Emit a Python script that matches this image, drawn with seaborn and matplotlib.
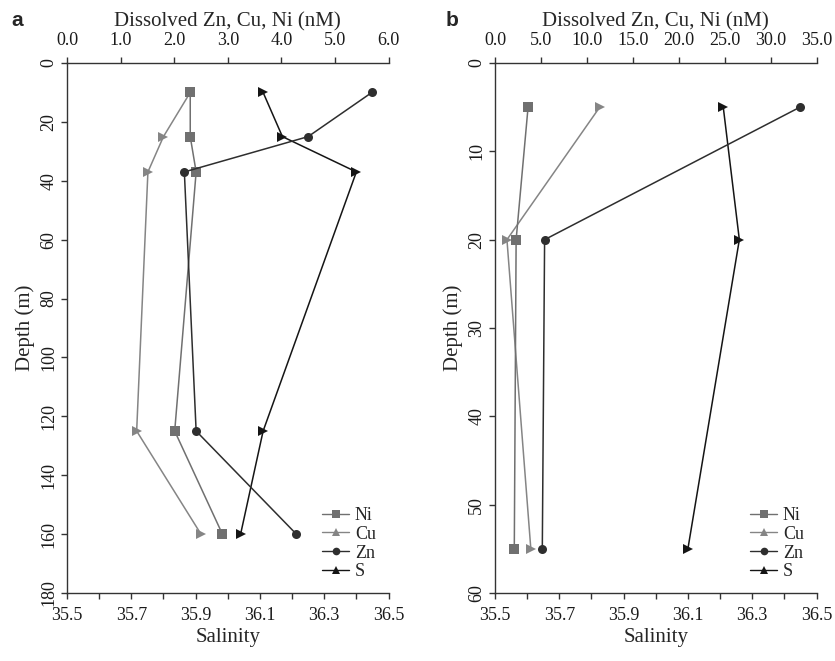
import matplotlib
matplotlib.use("Agg")
import matplotlib.pyplot as plt
from matplotlib.lines import Line2D
import numpy as np
import pandas as pd
import seaborn as sns

# Station a: depth profiles (m), dissolved metals (nM) and salinity
depth_a = [10, 25, 37, 125, 160]
ni_a = [2.30, 2.30, 2.41, 2.01, 2.90]
cu_a = [2.30, 1.80, 1.51, 1.30, 2.50]
zn_a = [5.69, 4.50, 2.19, 2.41, 4.28]
sal_a = [36.11, 36.17, 36.40, 36.11, 36.04]

# Station b
depth_b = [5, 20, 55]
ni_b = [3.6, 2.3, 2.1]
cu_b = [11.4, 1.3, 3.9]
zn_b = [33.2, 5.4, 5.15]
sal_b = [36.21, 36.26, 36.10]

metal_ticks_a = [0, 1, 2, 3, 4, 5, 6]
metal_ticks_b = [0, 5, 10, 15, 20, 25, 30, 35]
depth_ticks_a = list(range(0, 181, 20))
depth_ticks_b = list(range(0, 61, 10))
sal_ticks = [35.5, 35.6, 35.7, 35.8, 35.9, 36.0, 36.1, 36.2, 36.3, 36.4, 36.5]

sns.set_theme(style="ticks")
plt.rcParams["font.family"] = ["Liberation Serif", "DejaVu Serif"]
plt.rcParams["axes.linewidth"] = 1.0

C_NI = "#707070"
C_CU = "#858585"
C_ZN = "#2e2e2e"
C_S = "#151515"
SPINE = "#333333"
FS_TICK = 13
FS_LAB = 15

fig = plt.figure(figsize=(8.35, 6.61), dpi=100)
W, H = 835, 661


def panel(left_px, depth, ni, cu, zn, sal, xmax, mticks, dmax, dticks, letter, letter_x):
    ax = fig.add_axes([left_px / W, 1 - 593 / H, 321.5 / W, 530 / H])
    top = ax.twiny()

    prof = pd.DataFrame({"depth": depth, "Ni": ni, "Cu": cu, "Zn": zn, "S": sal})

    common = dict(sort=False, estimator=None, orient="y", legend=False,
                  linewidth=1.1, markersize=6.5, markeredgewidth=0)
    sns.lineplot(data=prof, x="Cu", y="depth", ax=top, color=C_CU, marker=">", **common)
    sns.lineplot(data=prof, x="Ni", y="depth", ax=top, color=C_NI, marker="s", **common)
    sns.lineplot(data=prof, x="Zn", y="depth", ax=top, color=C_ZN, marker="o", **common)
    sns.lineplot(data=prof, x="S", y="depth", ax=ax, color=C_S, marker=">", **common)

    ax.set_ylim(dmax, 0)
    ax.set_yticks(dticks)
    ax.set_yticklabels([str(d) for d in dticks], rotation=90, va="center")
    ax.set_xlim(35.5, 36.5)
    ax.set_xticks(sal_ticks)
    ax.set_xticklabels([f"{t:.1f}" if i % 2 == 0 else "" for i, t in enumerate(sal_ticks)])
    top.set_xlim(0, xmax)
    top.set_xticks(mticks)
    top.set_xticklabels([f"{t:.1f}" for t in mticks])

    ax.set_xlabel("Salinity", fontsize=FS_LAB, labelpad=3)
    ax.set_ylabel("Depth (m)", fontsize=FS_LAB, labelpad=4)
    top.set_xlabel("Dissolved Zn, Cu, Ni (nM)", fontsize=FS_LAB, labelpad=4)
    top.set_ylabel("")

    for a in (ax, top):
        a.spines["right"].set_visible(False)
        for s in ("left", "top", "bottom"):
            a.spines[s].set_color(SPINE)
        a.tick_params(direction="out", length=4, width=1, colors=SPINE,
                      labelsize=FS_TICK, labelcolor="#1a1a1a")
        a.grid(False)
    top.spines["bottom"].set_visible(False)
    top.spines["left"].set_visible(False)
    ax.spines["top"].set_visible(False)
    ax.tick_params(axis="y", pad=3)
    ax.tick_params(axis="x", pad=6)
    top.tick_params(axis="x", pad=6)

    handles = [
        Line2D([], [], color=C_NI, marker="s", markersize=5.5, markeredgewidth=0, lw=1),
        Line2D([], [], color=C_CU, marker="^", markersize=5.5, markeredgewidth=0, lw=1),
        Line2D([], [], color=C_ZN, marker="o", markersize=5.5, markeredgewidth=0, lw=1),
        Line2D([], [], color=C_S, marker="^", markersize=5.5, markeredgewidth=0, lw=1),
    ]
    top.legend(handles, ["Ni", "Cu", "Zn", "S"], loc="lower right",
               bbox_to_anchor=(1.0, 0.0), frameon=False, fontsize=FS_TICK,
               handlelength=1.5, handletextpad=0.3, labelspacing=0.1,
               borderaxespad=0.3)

    fig.text(letter_x / W, 1 - 20 / H, letter, fontsize=15, fontweight="bold",
             family=["Liberation Sans", "DejaVu Sans"], ha="center", va="center")
    return ax, top


panel(67, depth_a, ni_a, cu_a, zn_a, sal_a, 6, metal_ticks_a, 180, depth_ticks_a, "a", 17)
panel(495, depth_b, ni_b, cu_b, zn_b, sal_b, 35, metal_ticks_b, 60, depth_ticks_b, "b", 452)

fig.savefig("out.png", dpi=100)
